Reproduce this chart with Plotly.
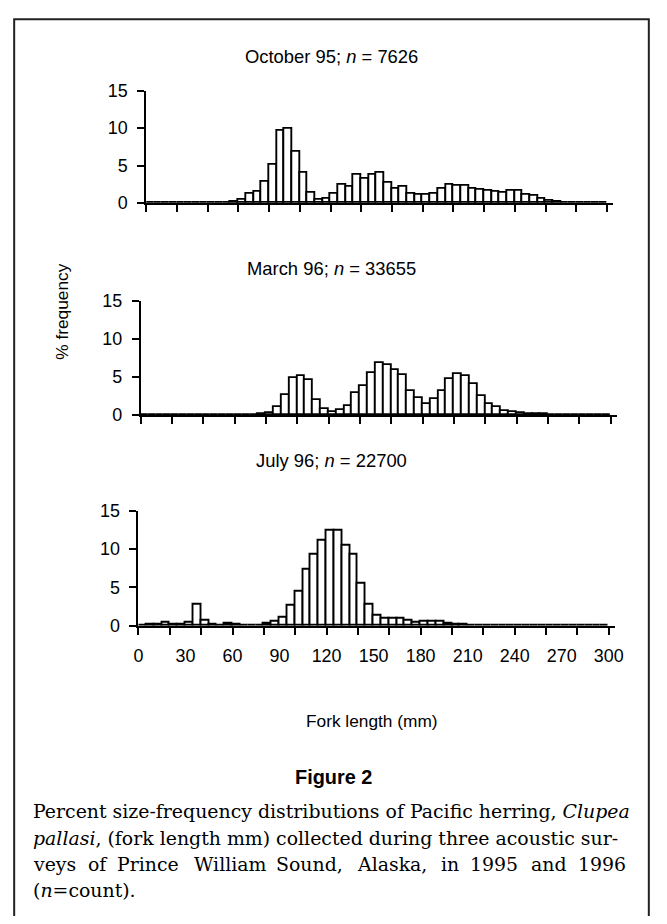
import plotly.graph_objects as go

# page is 667x924; browser body margin is 8 px, so the figure is 651x908 offset by 8
PAGE_OFF = 8
W, H = 667 - 2 * PAGE_OFF, 924 - 2 * PAGE_OFF
# observed photo transform: photo = SC * page + (BX, BY); invert it for placement
SC, BX, BY = 0.98, 4.7, 9.2

# ---- data (percent frequency per 5-mm fork-length bin, bin starts 0..295) ----
bin_start = list(range(0, 300, 5))
oct95 = [0, 0, 0, 0, 0, 0, 0, 0, 0, 0, 0, 0.1,
         0.45, 1.2, 1.5, 2.85, 5.1, 9.65, 9.9, 6.9, 4.05, 1.4,
         0.45, 0.6, 1.25, 2.45, 2.2, 3.7, 3.25, 3.8, 4.0, 2.75,
         1.9, 2.2, 1.25, 1.1, 1.05, 1.25, 1.95, 2.4, 2.35, 2.25,
         1.85, 1.7, 1.6, 1.45, 1.4, 1.6, 1.6, 1.1, 0.95, 0.55,
         0.25, 0.12, 0.05, 0.03, 0.02, 0.01, 0, 0]
mar96 = [0, 0, 0, 0, 0, 0, 0, 0, 0, 0, 0, 0.02,
         0.03, 0.05, 0.05, 0.1, 0.25, 1.0, 2.65, 4.9, 5.2, 4.65,
         2.0, 0.85, 0.45, 0.65, 1.2, 2.9, 3.8, 5.55, 6.85, 6.65,
         5.95, 5.25, 3.1, 2.2, 1.45, 2.1, 3.15, 4.8, 5.4, 5.15,
         4.05, 2.45, 1.45, 1.0, 0.5, 0.45, 0.3, 0.2, 0.15, 0.1,
         0.07, 0.05, 0.03, 0.02, 0.01, 0, 0, 0]
jul96 = [0.05, 0.1, 0.2, 0.45, 0.17, 0.2, 0.35, 2.8, 0.7, 0.2,
         0.05, 0.25, 0.2, 0.05, 0.05, 0.05, 0.26, 0.5, 1.1, 2.6,
         4.4, 7.3, 9.3, 11.1, 12.35, 12.4, 10.4, 9.2, 5.45, 2.7,
         1.35, 0.95, 0.95, 0.95, 0.7, 0.35, 0.48, 0.56, 0.48, 0.26,
         0.1, 0.08, 0.05, 0.05, 0.04, 0.03, 0.02, 0.02, 0.01, 0.01,
         0, 0, 0, 0, 0, 0, 0, 0, 0, 0]
series = [oct95, mar96, jul96]
panel_titles = ["October 95; <i>n</i> = 7626",
                "March 96; <i>n</i> = 33655",
                "July 96; <i>n</i> = 22700"]
y_ticks = [0, 5, 10, 15]
x_mark_ticks = list(range(0, 301, 20))
x_label_ticks = list(range(0, 301, 30))
bin_width = 5

# ---- layout geometry (reference-photo pixels) ----
panels = [dict(x0=146.0, x300=607.5, y0=202.3, y15=90.0, ty=56),
          dict(x0=140.5, x300=611.1, y0=415.0, y15=300.7, ty=268),
          dict(x0=138.2, x300=609.2, y0=626.0, y15=510.7, ty=460)]
XMAX = 304


def fx(x):  # reference x -> figure px
    return (x - BX) / SC - PAGE_OFF


def fy(y):
    return (y - BY) / SC - PAGE_OFF


def px(x):
    return fx(x) / W


def py(y):
    return 1 - fy(y) / H


def fs(s):
    return round(s / SC, 1)


FONT = "Liberation Sans, Arial, sans-serif"
fig = go.Figure()
layout = dict(width=W, height=H, margin=dict(l=0, r=0, t=0, b=0),
              paper_bgcolor="white", plot_bgcolor="white",
              showlegend=False, bargap=0,
              font=dict(family=FONT, color="black", size=16))
annotations = []

centers = [s + bin_width / 2 for s in bin_start]
for i, (p, vals) in enumerate(zip(panels, series)):
    n = "" if i == 0 else str(i + 1)
    fig.add_trace(go.Bar(x=centers, y=vals, width=bin_width,
                         marker=dict(color="white", line=dict(color="black", width=1.9)),
                         xaxis="x" + n, yaxis="y" + n, hoverinfo="skip"))
    dx = (p["x300"] - p["x0"]) / 300
    xd = [px(p["x0"]), px(p["x0"] + XMAX * dx)]
    yd = [py(p["y0"]), py(p["y15"])]
    layout["xaxis" + n] = dict(domain=xd, range=[0, XMAX], anchor="y" + n,
                               tickvals=x_mark_ticks, ticks="outside", ticklen=7,
                               tickwidth=2, tickcolor="black", showticklabels=False,
                               showline=True, linewidth=2, linecolor="black",
                               showgrid=False, zeroline=False, fixedrange=True)
    layout["yaxis" + n] = dict(domain=yd, range=[0, 15], anchor="x" + n,
                               tickvals=y_ticks, ticks="outside", ticklen=7,
                               tickwidth=2, tickcolor="black", ticklabelstandoff=6,
                               tickfont=dict(size=fs(17.5), family=FONT),
                               showline=True, linewidth=2, linecolor="black",
                               showgrid=False, zeroline=False, fixedrange=True)
    annotations.append(dict(text=panel_titles[i], x=px(332), y=py(p["ty"]),
                            xref="paper", yref="paper", showarrow=False,
                            xanchor="center", yanchor="middle",
                            font=dict(size=fs(18), family=FONT)))

# overlay axis for fork-length labels on the bottom panel
p = panels[2]
dx = (p["x300"] - p["x0"]) / 300
fig.add_trace(go.Scatter(x=[0, 300], y=[0, 0], mode="markers",
                         marker=dict(opacity=0), xaxis="x4", yaxis="y3",
                         hoverinfo="skip"))
layout["xaxis4"] = dict(domain=[px(p["x0"]), px(p["x0"] + XMAX * dx)],
                        range=[0, XMAX], overlaying="x3", anchor="y3",
                        tickvals=x_label_ticks, ticks="outside", ticklen=14,
                        tickcolor="rgba(0,0,0,0)", showline=False,
                        tickfont=dict(size=fs(17.5), family=FONT),
                        showgrid=False, zeroline=False, fixedrange=True)

annotations += [
    dict(text="Fork length (mm)", x=px(372), y=py(721), xref="paper", yref="paper",
         showarrow=False, xanchor="center", yanchor="middle",
         font=dict(size=fs(17), family=FONT)),
    dict(text="% frequency", x=px(62), y=py(311), xref="paper", yref="paper",
         showarrow=False, xanchor="center", yanchor="middle", textangle=-90,
         font=dict(size=fs(17), family=FONT)),
    dict(text="<b>Figure 2</b>", x=px(334), y=py(778), xref="paper", yref="paper",
         showarrow=False, xanchor="center", yanchor="middle",
         font=dict(size=fs(19.5), family="Liberation Sans Narrow, Liberation Sans, sans-serif")),
]

# ---- caption (serif, justified between x=31 and x=628 in reference pixels) ----
SERIF = "DejaVu Serif, serif"
CAP_SIZE = fs(18.5)
CAP_L, CAP_R = 31, 628
_cw = dict(a=.596, b=.640, c=.560, d=.640, e=.592, f=.370, g=.640, h=.644, i=.320,
           j=.310, k=.606, l=.320, m=.948, n=.644, o=.602, p=.640, q=.640, r=.478,
           s=.513, t=.402, u=.644, v=.565, w=.856, x=.564, y=.565, z=.523)


def est_width(word, size):
    w = 0
    for ch in word:
        if ch.islower():
            w += _cw.get(ch, .6)
        elif ch.isupper():
            w += .75
        elif ch.isdigit():
            w += .636
        elif ch in ",.":
            w += .318
        elif ch in "()":
            w += .39
        elif ch == "-":
            w += .338
        else:
            w += .6
    return w * size * 1.08


cap_lines = [
    (["Percent size-frequency distributions of Pacific herring, <i>Clupea</i>"], 812),
    (["<i>pallasi</i>, (fork length mm) collected during three acoustic sur-"], 839),
    (["veys", "of", "Prince", "William", "Sound,", "Alaska,", "in", "1995", "and", "1996"], 865),
    (["(<i>n</i>=count)."], 891),
]
for words, yy in cap_lines:
    if len(words) == 1:
        annotations.append(dict(text=words[0], x=px(CAP_L), y=py(yy),
                                xref="paper", yref="paper", showarrow=False,
                                xanchor="left", yanchor="middle",
                                font=dict(size=CAP_SIZE, family=SERIF)))
        continue
    widths = [est_width(w, CAP_SIZE) for w in words]
    span = fx(CAP_R) - fx(CAP_L)
    gap = (span - sum(widths)) / (len(words) - 1)
    xpos = fx(CAP_L)
    for k, w in enumerate(words):
        last = k == len(words) - 1
        annotations.append(dict(text=w, x=(fx(CAP_R) if last else xpos) / W, y=py(yy),
                                xref="paper", yref="paper", showarrow=False,
                                xanchor="right" if last else "left", yanchor="middle",
                                font=dict(size=CAP_SIZE, family=SERIF)))
        xpos += widths[k] + gap

layout["annotations"] = annotations
layout["shapes"] = [dict(type="rect", xref="paper", yref="paper",
                         x0=1.2 / W, x1=1 - 1.2 / W, y0=-0.1, y1=1 - 1.2 / H,
                         line=dict(color="#222", width=2), fillcolor="rgba(0,0,0,0)")]
fig.update_layout(**layout)
fig.write_html("out.html")
